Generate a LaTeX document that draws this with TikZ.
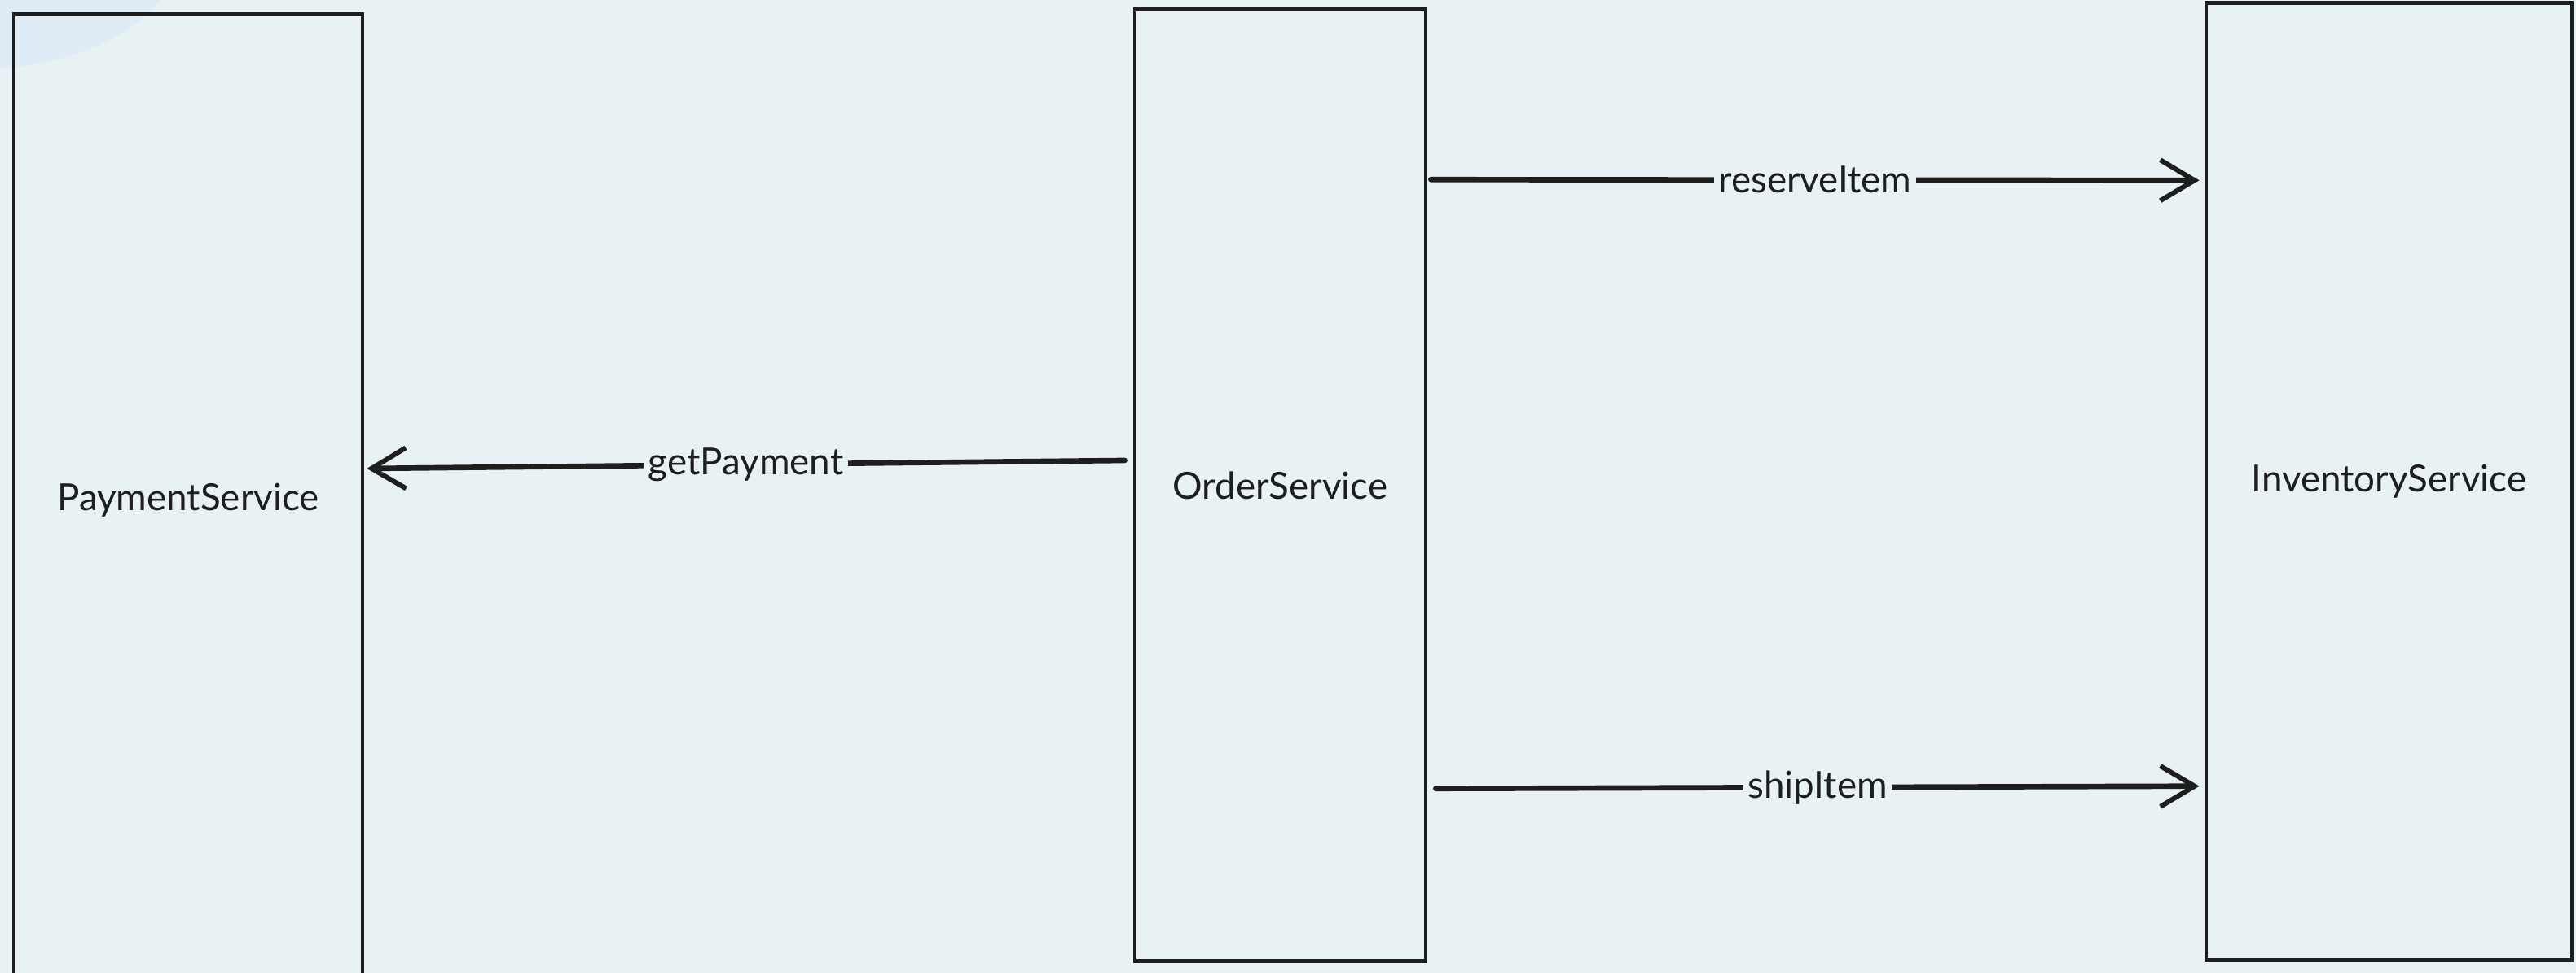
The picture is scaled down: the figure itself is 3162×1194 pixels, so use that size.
\documentclass[tikz,border=0pt]{standalone}
\usepackage{fontspec}
\setmainfont{Lato}
\usetikzlibrary{arrows.meta}
\definecolor{bg}{RGB}{232,241,244}
\definecolor{blob}{RGB}{224,236,245}
\definecolor{ink}{RGB}{30,30,30}
\begin{document}
\begin{tikzpicture}[x=0.01cm,y=-0.01cm,
  svc/.style={draw=ink, line width=1.3pt, inner sep=0pt, text=ink,
    font=\fontsize{13}{15}\selectfont},
  conn/.style={draw=ink, line width=1.9pt, line cap=round,
    -{Straight Barb[length=0.42cm, width=0.5cm, line width=1.7pt]}},
  lbl/.style={fill=bg, inner sep=1.5pt, text=ink, font=\fontsize{13}{15}\selectfont}]
\fill[bg] (0,0) rectangle (3162,1194);
\useasboundingbox (0,0) rectangle (3162,1194);
\begin{scope}
  \clip (0,0) rectangle (3162,1194);
  \fill[blob] (-30,-60) ellipse [x radius=250, y radius=145];
\end{scope}
\begin{scope}
  \clip (0,0) rectangle (3162,1194);
  \node[svc, minimum width=4.28cm, minimum height=11.92cm] (pay) at (231,614) {PaymentService};
\end{scope}
\node[svc, minimum width=3.57cm, minimum height=11.67cm] (ord) at (1571.5,595.5) {OrderService};
\node[svc, minimum width=4.49cm, minimum height=11.73cm] (inv) at (2932.5,590.5) {InventoryService};
\draw[conn] ([xshift=-0.1cm,yshift=0.305cm]ord.west) -- node[lbl]{getPayment} ([xshift=0.03cm,yshift=0.39cm]pay.east);
\draw[conn] ([xshift=0.04cm,yshift=3.75cm]ord.east) -- node[lbl]{reserveItem} ([xshift=-0.06cm,yshift=3.69cm]inv.west);
\draw[conn] ([xshift=0.1cm,yshift=-3.72cm]ord.east) -- node[lbl]{shipItem} ([xshift=-0.06cm,yshift=-3.74cm]inv.west);
\end{tikzpicture}
\end{document}
